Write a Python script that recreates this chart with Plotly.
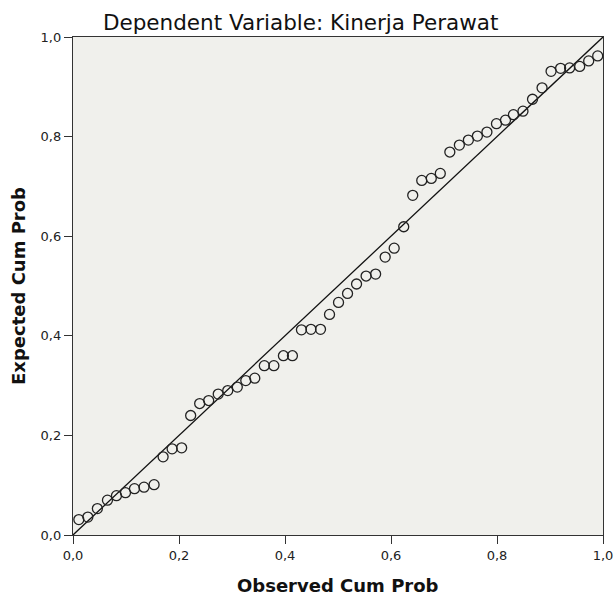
import plotly.graph_objects as go

observed = [0.011, 0.028, 0.046, 0.065, 0.082, 0.099, 0.116, 0.134, 0.153, 0.170,
            0.187, 0.205, 0.222, 0.239, 0.256, 0.274, 0.292, 0.310, 0.326, 0.343,
            0.361, 0.379, 0.397, 0.414, 0.431, 0.449, 0.467, 0.484, 0.501, 0.518,
            0.535, 0.553, 0.571, 0.589, 0.606, 0.624, 0.641, 0.658, 0.676, 0.693,
            0.711, 0.729, 0.746, 0.763, 0.781, 0.799, 0.816, 0.831, 0.849, 0.867,
            0.885, 0.902, 0.920, 0.937, 0.956, 0.973, 0.990]
expected = [0.031, 0.036, 0.053, 0.070, 0.079, 0.085, 0.093, 0.096, 0.101, 0.157,
            0.173, 0.175, 0.240, 0.264, 0.270, 0.283, 0.290, 0.297, 0.310, 0.315,
            0.340, 0.340, 0.360, 0.360, 0.412, 0.413, 0.413, 0.443, 0.467, 0.485,
            0.504, 0.520, 0.524, 0.558, 0.576, 0.619, 0.682, 0.712, 0.716, 0.726,
            0.769, 0.783, 0.793, 0.801, 0.809, 0.826, 0.833, 0.844, 0.851, 0.875,
            0.898, 0.931, 0.937, 0.938, 0.941, 0.952, 0.962]
ref_line = [0.0, 1.0]
tick_vals = [0.0, 0.2, 0.4, 0.6, 0.8, 1.0]
tick_text = ["0,0", "0,2", "0,4", "0,6", "0,8", "1,0"]

FONT = "DejaVu Sans"

fig = go.Figure()
fig.add_trace(go.Scatter(x=ref_line, y=ref_line, mode="lines",
                         line=dict(color="#111111", width=1.3), hoverinfo="skip"))
fig.add_trace(go.Scatter(x=observed, y=expected, mode="markers",
                         marker=dict(symbol="circle-open", size=10,
                                     color="#222222", line=dict(width=1.3))))

axis_common = dict(range=[0, 1], tickvals=tick_vals, ticktext=tick_text,
                   showgrid=False, zeroline=False, showline=True, linecolor="#333333",
                   linewidth=1.3, mirror=True, ticks="outside", ticklen=8,
                   tickwidth=1.3, tickcolor="#333333", automargin=False,
                   tickfont=dict(family=FONT, size=13, color="#222222"))

fig.update_layout(
    width=614, height=598,
    margin=dict(l=73, r=11, t=37, b=63),
    paper_bgcolor="white", plot_bgcolor="#f0f0ec",
    showlegend=False,
    title=dict(text="Dependent Variable: Kinerja Perawat", x=0.4897, xanchor="center",
               y=0.962, yanchor="middle",
               font=dict(family=FONT, size=21.5, color="#111111")),
    xaxis=dict(axis_common),
    yaxis=dict(axis_common),
    annotations=[
        dict(text="<b>Observed Cum Prob</b>", xref="paper", yref="paper", x=0.5, y=0,
             yshift=-50, xanchor="center", yanchor="middle", showarrow=False,
             font=dict(family=FONT, size=18, color="#111111")),
        dict(text="<b>Expected Cum Prob</b>", xref="paper", yref="paper", x=0, y=0.5,
             xshift=-55, xanchor="center", yanchor="middle", textangle=-90, showarrow=False,
             font=dict(family=FONT, size=18, color="#111111")),
    ],
)

fig.write_html("out.html", config={"displayModeBar": False},
               post_script="document.body.style.margin='0';document.body.style.overflow='hidden';")
